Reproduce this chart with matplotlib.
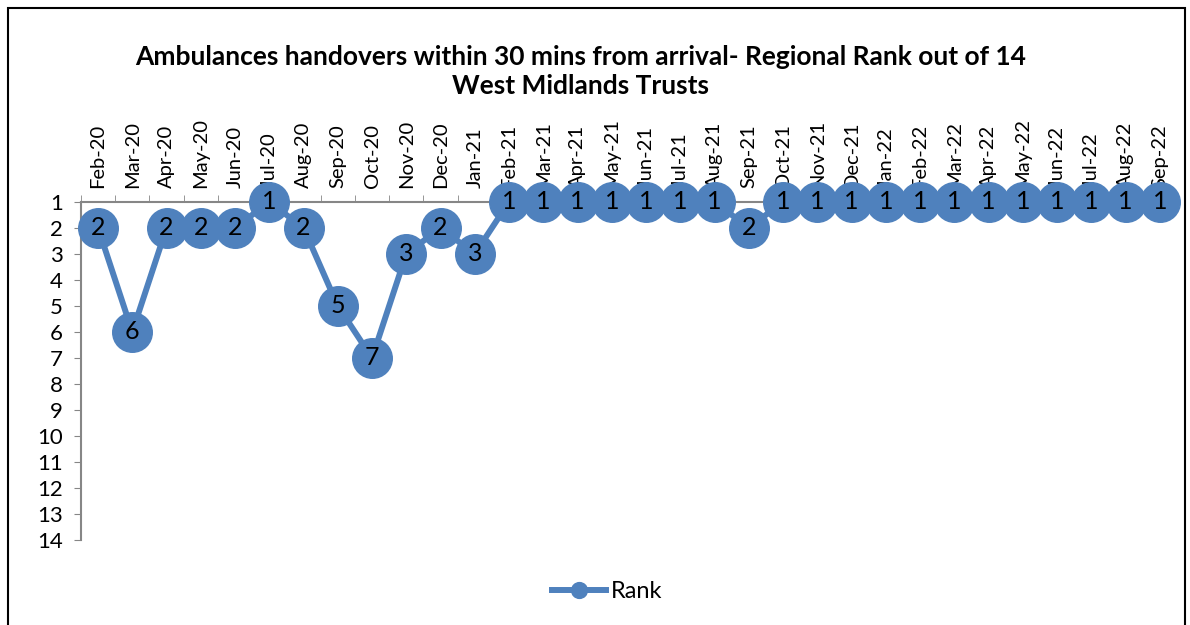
import matplotlib.pyplot as plt
from matplotlib.patches import Rectangle

months = ["Feb-20", "Mar-20", "Apr-20", "May-20", "Jun-20", "Jul-20", "Aug-20", "Sep-20",
          "Oct-20", "Nov-20", "Dec-20", "Jan-21", "Feb-21", "Mar-21", "Apr-21", "May-21",
          "Jun-21", "Jul-21", "Aug-21", "Sep-21", "Oct-21", "Nov-21", "Dec-21", "Jan-22",
          "Feb-22", "Mar-22", "Apr-22", "May-22", "Jun-22", "Jul-22", "Aug-22", "Sep-22"]
rank = [2, 6, 2, 2, 2, 1, 2, 5, 7, 3, 2, 3, 1, 1, 1, 1,
        1, 1, 1, 2, 1, 1, 1, 1, 1, 1, 1, 1, 1, 1, 1, 1]

plt.rcParams['font.family'] = ['Lato', 'DejaVu Sans']
blue = '#4F81BD'
grey = '#868686'

fig = plt.figure(figsize=(11.9, 6.25), dpi=100)
ax = fig.add_axes([0.068, 0.136, 0.921, 0.541])

x = list(range(len(months)))
ax.plot(x, rank, color=blue, lw=4.3, marker='o', ms=28.5, mfc=blue, mec=blue,
        label='Rank', clip_on=False, zorder=3)
for xi, r in zip(x, rank):
    ax.text(xi, r, str(r), ha='center', va='center', fontsize=18, color='black', zorder=4)

ax.set_xlim(-0.5, len(months) - 0.5)
ax.set_ylim(14, 1)
ax.set_yticks(range(1, 15))
ax.tick_params(axis='y', length=5, color=grey, labelsize=16, pad=8)

ax.xaxis.tick_top()
ax.set_xticks(x)
ax.set_xticklabels(months, rotation=90, fontsize=14.5)
ax.tick_params(axis='x', which='major', length=0, pad=10)
ax.set_xticks([i - 0.5 for i in range(len(months) + 1)], minor=True)
ax.tick_params(axis='x', which='minor', length=5, color=grey, top=True, bottom=False)

for s in ['right', 'bottom']:
    ax.spines[s].set_visible(False)
for s in ['left', 'top']:
    ax.spines[s].set_color(grey)
    ax.spines[s].set_linewidth(1.5)

fig.text(0.488, 0.886, "Ambulances handovers within 30 mins from arrival- Regional Rank out of 14\nWest Midlands Trusts",
         ha='center', va='center', fontsize=19, fontweight='bold', linespacing=1.25)

leg = fig.legend(loc='center', bbox_to_anchor=(0.51, 0.053), frameon=False, fontsize=17,
                 markerscale=0.4, handlelength=2.3, handletextpad=0.2)

fig.patches.append(Rectangle((0.007, -0.05), 0.989, 1.037, transform=fig.transFigure,
                             fill=False, edgecolor='black', lw=1.5))

fig.savefig('out.png', dpi=100)
